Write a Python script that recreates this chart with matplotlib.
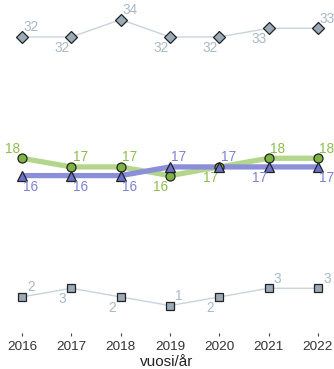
import numpy as np
from matplotlib import pyplot as plt

plt.rcParams["font.family"] = ["Liberation Sans", "DejaVu Sans"]

years = [2016, 2017, 2018, 2019, 2020, 2021, 2022]
top_vals = [32, 32, 34, 32, 32, 33, 33]
green_vals = [18, 17, 17, 16, 17, 18, 18]
blue_vals = [16, 16, 16, 17, 17, 17, 17]
bottom_vals = [2, 3, 2, 1, 2, 3, 3]

# where each value label goes relative to its marker
top_pos = ["ur", "dl", "ur", "dl", "dl", "dl", "ur"]
green_pos = ["ul", "ur", "ur", "dl", "dl", "ur", "ur"]
blue_pos = ["dr", "dr", "dr", "ur", "ur", "dl", "dr"]
bottom_pos = ["ur", "dl", "dl", "ur", "dl", "ur", "ur"]

offsets = {"ur": (6.5, 7), "ul": (-6.5, 7), "dr": (6.5, -8), "dl": (-6.5, -8)}

fig = plt.figure(figsize=(3.34, 3.69), dpi=100)
ax = fig.add_axes([0, 36 / 369, 1, 333 / 369])


def draw(vals, pos, line_col, lw, marker, ms, face, text_col, z):
    ax.plot(years, vals, color=line_col, lw=lw, solid_capstyle="butt", zorder=z)
    ax.plot(years, vals, ls="none", marker=marker, ms=ms, mfc=face,
            mec="#222222", mew=0.9, zorder=z + 5)
    for x, v, p in zip(years, vals, pos):
        ax.annotate(str(v), (x, v), xytext=offsets[p], textcoords="offset points",
                    ha="center", va="center", fontsize=9.8, color=text_col,
                    annotation_clip=False, zorder=z + 6)


draw(top_vals, top_pos, "#c9d3db", 1.0, "D", 6, "#9aabb7", "#a9b8c6", 2)
draw(green_vals, green_pos, "#b4d68c", 3.8, "o", 6.5, "#7db442", "#8dbd4c", 3)
draw(blue_vals, blue_pos, "#8a8fd8", 3.8, "^", 7, "#6b70c8", "#7d82d4", 4)
draw(bottom_vals, bottom_pos, "#c9d3db", 1.0, "s", 5.5, "#9aabb7", "#a9b8c6", 2)

ax.set_xlim(2015.554, 2022.325)
ax.set_ylim(-2.16, 36.26)
ax.set_xticks(years)
ax.set_yticks([])
for s in ax.spines.values():
    s.set_visible(False)
ax.tick_params(axis="x", length=2.5, width=0.8, color="#444444",
               labelsize=9.7, labelcolor="#333333", pad=3)
ax.set_xlabel("vuosi/år", fontsize=11, color="#222222", labelpad=2)
ax.patch.set_alpha(0)

plt.savefig("out.png", dpi=100)
plt.close()
